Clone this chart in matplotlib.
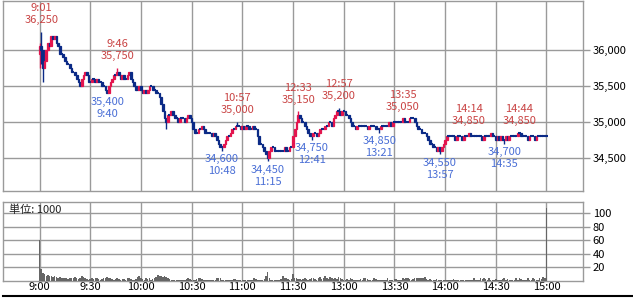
import matplotlib

matplotlib.use("Agg")
import matplotlib.pyplot as plt
from matplotlib.lines import Line2D

plt.rcParams["font.family"] = ["Noto Sans CJK JP", "DejaVu Sans"]
plt.rcParams["font.size"] = 8

UP = "#e3154e"
DOWN = "#0b2a86"
GRID = "#9a9a9a"
RED_TXT = "#c94444"
BLUE_TXT = "#4a6fd6"

# 1-minute closes, morning 9:00-11:29 and afternoon 12:30-15:00
first_open = 35950
close_am = [
    36050, 36000, 35750, 35850, 36000, 36100, 36050, 36200, 36150, 36200,
    36100, 36050, 35950, 35950, 35900, 35850, 35800, 35800, 35750, 35700,
    35700, 35650, 35600, 35550, 35500, 35600, 35650, 35700, 35650, 35550,
    35550, 35600, 35600, 35550, 35600, 35550, 35550, 35500, 35500, 35450,
    35400, 35500, 35550, 35600, 35650, 35650, 35700, 35650, 35600, 35650,
    35600, 35600, 35650, 35700, 35600, 35550, 35500, 35450, 35450, 35500,
    35450, 35400, 35450, 35400, 35450, 35500, 35500, 35450, 35450, 35400,
    35400, 35350, 35250, 35150, 35050, 35000, 35100, 35100, 35150, 35100,
    35050, 35050, 35000, 35050, 35050, 35050, 35000, 35050, 35100, 35050,
    35000, 34900, 34850, 34850, 34900, 34900, 34950, 34900, 34850, 34850,
    34850, 34850, 34800, 34850, 34800, 34750, 34700, 34650, 34650, 34700,
    34750, 34800, 34800, 34850, 34900, 34900, 34950, 34950, 34950, 34900,
    34950, 34900, 34950, 34950, 34900, 34900, 34950, 34900, 34900, 34800,
    34700, 34700, 34650, 34600, 34550, 34500, 34600, 34650, 34650, 34600,
    34600, 34600, 34600, 34600, 34600, 34650, 34600, 34600, 34650, 34650,
]
close_pm = [
    34800, 34900, 35000, 35100, 35050, 35000, 35000, 34950, 34900, 34850,
    34800, 34800, 34850, 34850, 34800, 34850, 34900, 34900, 34900, 34950,
    34950, 35000, 35000, 34950, 35050, 35100, 35150, 35150, 35100, 35150,
    35150, 35100, 35100, 35050, 35000, 34950, 34950, 34900, 34950, 34950,
    34950, 34950, 34950, 34950, 34900, 34950, 34950, 34950, 34950, 34900,
    34900, 34900, 34950, 34950, 34950, 34950, 34950, 35000, 34950, 35000,
    35000, 35000, 35000, 35000, 35000, 35050, 35000, 35000, 35000, 35050,
    35050, 35050, 35000, 34950, 34900, 34900, 34850, 34850, 34850, 34800,
    34750, 34700, 34700, 34650, 34650, 34600, 34650, 34600, 34650, 34700,
    34750, 34800, 34800, 34800, 34800, 34800, 34750, 34800, 34800, 34800,
    34750, 34800, 34800, 34800, 34850, 34800, 34800, 34800, 34800, 34800,
    34800, 34800, 34750, 34800, 34800, 34800, 34800, 34850, 34800, 34800,
    34750, 34800, 34750, 34800, 34750, 34750, 34800, 34750, 34800, 34800,
    34800, 34800, 34800, 34850, 34850, 34800, 34800, 34800, 34800, 34750,
    34800, 34800, 34800, 34750, 34800, 34800, 34800, 34800, 34800, 34800,
    34800,
]

# volume in thousands per minute
volume_am = [
    60, 18, 12, 10, 8, 9, 8, 7, 6, 7,
    6, 5, 6, 5, 4, 5, 4, 3, 4, 5,
    4, 6, 4, 3, 5, 8, 6, 4, 3, 2,
    3, 4, 3, 5, 4, 3, 2, 3, 5, 4,
    6, 5, 4, 3, 2, 3, 4, 3, 2, 3,
    3, 2, 5, 4, 3, 2, 2, 3, 6, 7,
    5, 3, 2, 4, 3, 4, 2, 3, 5, 6,
    9, 8, 7, 6, 7, 6, 5, 3, 2, 2,
    2, 1, 2, 2, 1, 2, 2, 3, 4, 3,
    2, 1, 2, 3, 5, 4, 3, 2, 1, 2,
    2, 1, 2, 2, 2, 5, 5, 4, 2, 1,
    2, 1, 1, 2, 2, 3, 3, 2, 1, 1,
    1, 2, 1, 2, 1, 1, 2, 5, 3, 2,
    1, 1, 2, 3, 8, 13, 4, 2, 1, 1,
    2, 1, 2, 3, 8, 5, 4, 3, 2, 3,
]
volume_pm = [
    10, 5, 4, 3, 3, 2, 3, 4, 3, 2,
    3, 4, 5, 3, 2, 4, 6, 3, 4, 7,
    4, 3, 6, 5, 3, 4, 3, 6, 5, 3,
    2, 1, 3, 2, 4, 3, 2, 2, 1, 2,
    3, 2, 5, 4, 3, 2, 1, 2, 4, 3,
    1, 2, 2, 1, 1, 2, 4, 2, 1, 2,
    3, 3, 2, 1, 2, 4, 3, 5, 4, 3,
    2, 3, 4, 5, 4, 5, 4, 5, 6, 3,
    2, 3, 1, 2, 1, 3, 2, 2, 1, 1,
    1, 2, 1, 1, 1, 3, 1, 1, 1, 1,
    1, 1, 2, 1, 1, 1, 1, 4, 1, 1,
    1, 5, 3, 4, 3, 2, 4, 2, 1, 2,
    3, 2, 1, 2, 3, 5, 1, 3, 2, 1,
    2, 1, 4, 2, 5, 3, 1, 2, 2, 5,
    1, 2, 5, 3, 2, 2, 4, 3, 6, 4,
    108,
]

time_labels = ["9:00", "9:30", "10:00", "10:30", "11:00", "11:30",
               "13:00", "13:30", "14:00", "14:30", "15:00"]
price_ticks = [34500, 35000, 35500, 36000]
volume_ticks = [20, 40, 60, 80, 100]

high_marks = [("9:01", 36250), ("9:46", 35750), ("10:57", 35000), ("12:33", 35150),
              ("12:57", 35200), ("13:35", 35050), ("14:14", 34850), ("14:44", 34850)]
low_marks = [("9:40", 35400), ("10:48", 34600), ("11:15", 34450), ("12:41", 34750),
             ("13:21", 34850), ("13:57", 34550), ("14:35", 34700)]
extra_high = [("9:00", 36100), ("9:02", 36000)]
extra_low = [("9:00", 35750), ("9:01", 35800), ("9:02", 35550), ("10:15", 34900)]


def minute_index(label):
    h, m = map(int, label.split(":"))
    t = h * 60 + m
    return t - 540 if t <= 690 else t - 600


close = close_am + close_pm
volume = volume_am + volume_pm
opens = [first_open] + close[:-1]
highs = [max(o, c) for o, c in zip(opens, close)]
lows = [min(o, c) for o, c in zip(opens, close)]
for lab, v in high_marks + extra_high:
    i = minute_index(lab)
    highs[i] = max(highs[i], v)
for lab, v in low_marks + extra_low:
    i = minute_index(lab)
    lows[i] = min(lows[i], v)

fig = plt.figure(figsize=(6.33, 2.98), dpi=100)
ax = fig.add_axes([3 / 633, 1 - 191 / 298, 580 / 633, 190 / 298])
axv = fig.add_axes([3 / 633, 1 - 281 / 298, 580 / 633, 79.3 / 298])

xs = list(range(len(close)))
for a in (ax, axv):
    a.set_xlim(-21.6, 321.6)
    a.set_xticks([minute_index(t) for t in time_labels])
    a.grid(True, color=GRID, lw=1)
    a.set_axisbelow(True)
    a.yaxis.tick_right()
    a.tick_params(axis="y", length=5, width=1, color=GRID, pad=2, labelsize=8)
    a.tick_params(axis="x", length=0, pad=1, labelsize=8)
    for s in a.spines.values():
        s.set_color(GRID)
        s.set_linewidth(1)

# candles
for i in xs:
    o, c, h, l = opens[i], close[i], highs[i], lows[i]
    col = UP if c > o else DOWN
    if h > max(o, c) or l < min(o, c):
        ax.vlines(i, l, h, color=col, lw=1, zorder=3)
    if c == o:
        ax.hlines(c, i - 0.7, i + 0.7, color=col, lw=1.5, zorder=3)
    else:
        ax.bar(i, abs(c - o), bottom=min(o, c), width=1.0, color=col,
               edgecolor=col, lw=0.9, zorder=3)

ax.set_ylim(34040, 36680)
ax.set_yticks(price_ticks)
ax.set_yticklabels([f"{v:,}" for v in price_ticks])
ax.tick_params(axis="x", labelbottom=False)

for lab, v in high_marks:
    i = minute_index(lab)
    ax.annotate(f"{v:,}", xy=(i, v), xytext=(0, 8.5), textcoords="offset pixels",
                ha="center", va="baseline", color=RED_TXT, fontsize=8)
    ax.annotate(lab, xy=(i, v), xytext=(0, 20.5), textcoords="offset pixels",
                ha="center", va="baseline", color=RED_TXT, fontsize=8)
for lab, v in low_marks:
    i = minute_index(lab)
    ax.annotate(f"{v:,}", xy=(i, v), xytext=(0, -11.5), textcoords="offset pixels",
                ha="center", va="baseline", color=BLUE_TXT, fontsize=8)
    ax.annotate(lab, xy=(i, v), xytext=(0, -23.5), textcoords="offset pixels",
                ha="center", va="baseline", color=BLUE_TXT, fontsize=8)

# volume
axv.bar(xs, volume, width=0.9, color="#666666", zorder=3)
axv.set_ylim(0, 117)
axv.set_yticks(volume_ticks)
axv.set_xticklabels(time_labels)
axv.text(0.011, 0.895, "単位: 1000", transform=axv.transAxes, ha="left", va="center",
         fontsize=8, color="#222222")

fig.add_artist(Line2D([3 / 633, 1], [2 / 298, 2 / 298], color="black", lw=1.5))

fig.savefig("out.png", dpi=100, facecolor="white")
